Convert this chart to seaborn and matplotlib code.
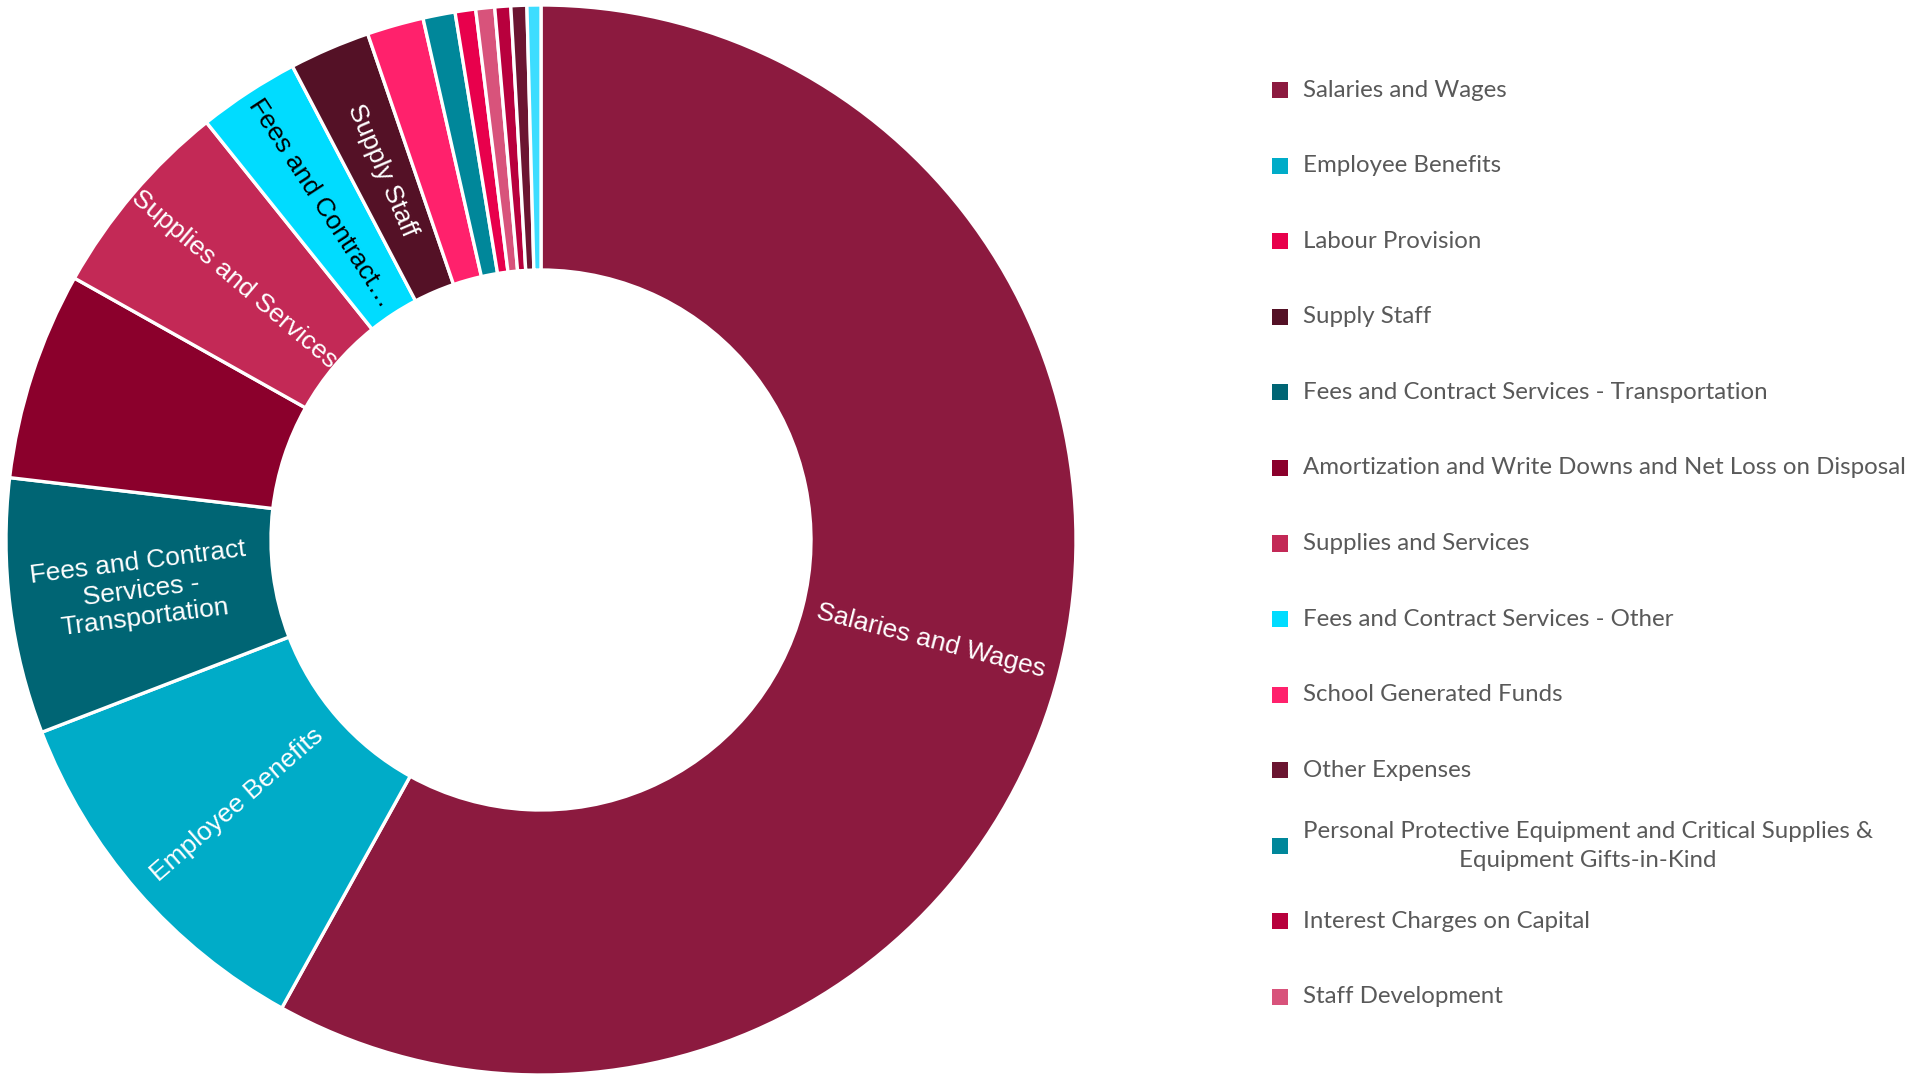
import numpy as np
import matplotlib
matplotlib.use("Agg")
import matplotlib.pyplot as plt
import seaborn as sns

# Expense categories, largest first (drawing order clockwise from 12 o'clock)
categories = [
    "Salaries and Wages",
    "Employee Benefits",
    "Fees and Contract Services - Transportation",
    "Amortization and Write Downs and Net Loss on Disposal",
    "Supplies and Services",
    "Fees and Contract Services - Other",
    "Supply Staff",
    "School Generated Funds",
    "Personal Protective Equipment and Critical Supplies & Equipment Gifts-in-Kind",
    "Labour Provision",
    "Staff Development",
    "Interest Charges on Capital",
    "Other Expenses",
    "Rental Expenses",
]

# Share of total expenses (%)
shares = [58.05, 11.10, 7.71, 6.28, 6.11, 3.06, 2.44, 1.71, 0.97, 0.62, 0.57, 0.48, 0.48, 0.42]

colors = [
    "#8C1A3F", "#00ACC8", "#006574", "#8B002C", "#C32956", "#00DCFF", "#541126",
    "#FF216C", "#00879A", "#E8004C", "#D8537B", "#B8003D", "#6B1531", "#3DDDFF",
]

# Text written inside the ring ("" means the slice is left unlabelled)
ring_labels = [
    "Salaries and Wages",
    "Employee Benefits",
    "Fees and Contract\nServices -\nTransportation",
    "",
    "Supplies and Services",
    "Fees and Contract\u2026",
    "Supply Staff",
    "", "", "", "", "", "", "",
]
ring_label_colors = ["white", "white", "white", "white", "white", "black", "white",
                     "white", "white", "white", "white", "white", "white", "white"]

# Legend entries (in listing order) and the text shown for each
legend_keys = [
    "Salaries and Wages",
    "Employee Benefits",
    "Labour Provision",
    "Supply Staff",
    "Fees and Contract Services - Transportation",
    "Amortization and Write Downs and Net Loss on Disposal",
    "Supplies and Services",
    "Fees and Contract Services - Other",
    "School Generated Funds",
    "Other Expenses",
    "Personal Protective Equipment and Critical Supplies & Equipment Gifts-in-Kind",
    "Interest Charges on Capital",
    "Staff Development",
]
legend_texts = [
    "Salaries and Wages",
    "Employee Benefits",
    "Labour Provision",
    "Supply Staff",
    "Fees and Contract Services - Transportation",
    "Amortization and Write Downs and Net Loss on Disposal",
    "Supplies and Services",
    "Fees and Contract Services - Other",
    "School Generated Funds",
    "Other Expenses",
    "Personal Protective Equipment and Critical Supplies &\nEquipment Gifts-in-Kind",
    "Interest Charges on Capital",
    "Staff Development",
]

sns.set_theme(style="white")
plt.rcParams["font.family"] = ["Liberation Sans", "DejaVu Sans"]

W, H = 1908, 1077
fig = plt.figure(figsize=(W / 100, H / 100), dpi=100)
fig.patch.set_facecolor("white")

# Donut axes: centre (541, 540) px from top-left, outer radius 535 px
cx, cy, R = 541, 540, 535
ax = fig.add_axes([(cx - R) / W, (H - cy - R) / H, 2 * R / W, 2 * R / H])
ring_width = (535 - 270) / 535

wedges, _ = ax.pie(
    shares,
    colors=colors,
    startangle=90,
    counterclock=False,
    radius=1.0,
    wedgeprops=dict(width=ring_width, edgecolor="white", linewidth=2.4),
)
ax.set_xlim(-1, 1)
ax.set_ylim(-1, 1)
ax.set_aspect("equal")
ax.axis("off")

# Labels along each slice's radius, centred in the ring
total = float(np.sum(shares))
cum = np.cumsum(shares)
r_text = 1 - ring_width / 2
for share, c_end, text, tcol in zip(shares, cum, ring_labels, ring_label_colors):
    if not text:
        continue
    mid_cw = 360.0 * (c_end - share / 2) / total
    ang = (90.0 - mid_cw) % 360.0
    x = r_text * np.cos(np.radians(ang))
    y = r_text * np.sin(np.radians(ang))
    rot = ang if (ang <= 90 or ang >= 270) else ang - 180
    if rot >= 270:
        rot -= 360
    ax.text(x, y, text, rotation=rot, rotation_mode="anchor", ha="center",
            va="center", multialignment="center", color=tcol, fontsize=19,
            family=["Liberation Sans", "DejaVu Sans"])

# Legend drawn in its own axes: one row per entry
top_px, bot_px = 90, 997
left_px = 1260
lax = fig.add_axes([left_px / W, (H - bot_px) / H, (W - left_px) / W, (bot_px - top_px) / H])
lax.set_xlim(0, W - left_px)
lax.set_ylim(len(legend_keys) - 1, 0)
lax.axis("off")

color_of = dict(zip(categories, colors))
rows = np.arange(len(legend_keys))
lax.scatter(np.full(len(rows), 20.0), rows, marker="s", s=135,
            c=[color_of[k] for k in legend_keys], linewidths=0, clip_on=False)
for i, txt in zip(rows, legend_texts):
    lax.text(43, i, txt, ha="left", va="center", multialignment="center",
             color="#595959", fontsize=17.3, linespacing=1.5,
             family=["Lato", "DejaVu Sans"], clip_on=False)

fig.savefig("out.png", dpi=100, facecolor="white")
